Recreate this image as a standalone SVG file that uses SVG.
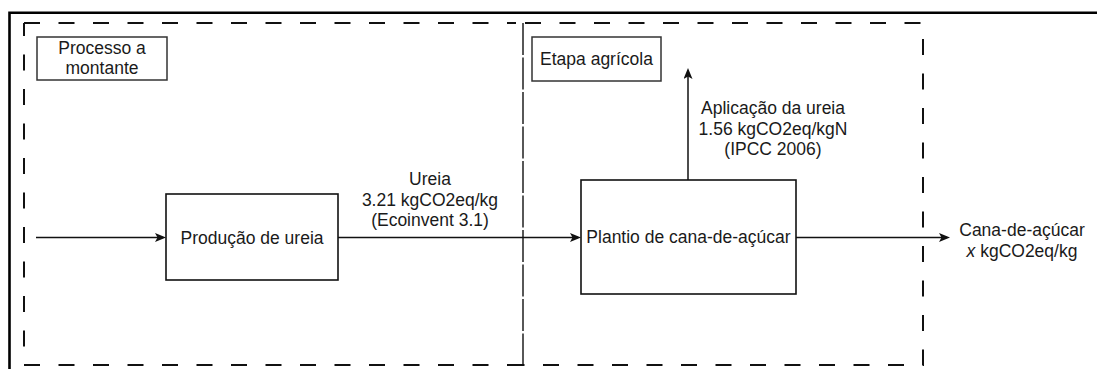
<svg xmlns="http://www.w3.org/2000/svg" width="1097" height="369" viewBox="0 0 1097 369">
<defs>
<style>
.frame{fill:none;stroke:#000;stroke-width:2.6}
.region{fill:none;stroke:#111;stroke-width:2;stroke-dasharray:16 18.5}
.shared{fill:none;stroke:#111;stroke-width:1.4;stroke-dasharray:32 2.5}
.box{fill:#fff;stroke:#111;stroke-width:1.6}
.tag{fill:#fff;stroke:#333;stroke-width:1.5}
.edge{fill:none;stroke:#111;stroke-width:1.5}
text{font-family:"Liberation Sans",Arial,sans-serif;font-size:17.5px;fill:#1a1a1a;text-anchor:middle}
</style>
<marker id="arr" markerUnits="userSpaceOnUse" markerWidth="12" markerHeight="10" refX="8" refY="4.5" orient="auto">
<path d="M0,0 L11,4.5 L0,9 L2.5,4.5 Z" fill="#111"/>
</marker>
</defs>
<rect width="1097" height="369" fill="#fff"/>
<path class="frame" d="M9.5,369 V12.8 H1097"/>
<g id="regiao-montante"><path class="region" d="M24,23 H516 M523,365 H24 V23"/></g>
<g id="regiao-agricola"><path class="region" d="M525,23 H923 V365 H523"/></g>
<g id="limite-comum"><line class="shared" x1="523" y1="23" x2="523" y2="365"/></g>
<g id="tag-montante">
<rect class="tag" x="37" y="37" width="130" height="43"/>
<text x="102" y="53.5">Processo a</text>
<text x="102" y="74">montante</text>
</g>
<g id="tag-agricola">
<rect class="tag" x="532" y="37" width="129" height="44"/>
<text x="596.5" y="65">Etapa agrícola</text>
</g>
<g id="producao">
<rect class="box" x="166" y="194" width="172" height="86"/>
<text x="252" y="244">Produção de ureia</text>
</g>
<g id="plantio">
<rect class="box" x="581" y="180" width="215" height="114"/>
<text x="688.5" y="243">Plantio de cana-de-açúcar</text>
</g>
<g id="connectors">
<line class="edge" x1="36" y1="237.5" x2="163" y2="237.5" marker-end="url(#arr)"/>
<line class="edge" x1="338" y1="237.5" x2="578" y2="237.5" marker-end="url(#arr)"/>
<line class="edge" x1="688" y1="180" x2="688" y2="71" marker-end="url(#arr)"/>
<line class="edge" x1="796" y1="237.5" x2="947" y2="237.5" marker-end="url(#arr)"/>
</g>
<g id="labels">
<text x="430" y="185">Ureia</text>
<text x="430" y="205.5">3.21 kgCO2eq/kg</text>
<text x="430" y="226">(Ecoinvent 3.1)</text>
<text x="773" y="114">Aplicação da ureia</text>
<text x="773" y="134.5">1.56 kgCO2eq/kgN</text>
<text x="773" y="155">(IPCC 2006)</text>
<text x="1022" y="236">Cana-de-açúcar</text>
<text x="1022" y="256.5"><tspan font-style="italic">x</tspan> kgCO2eq/kg</text>
</g>
</svg>
